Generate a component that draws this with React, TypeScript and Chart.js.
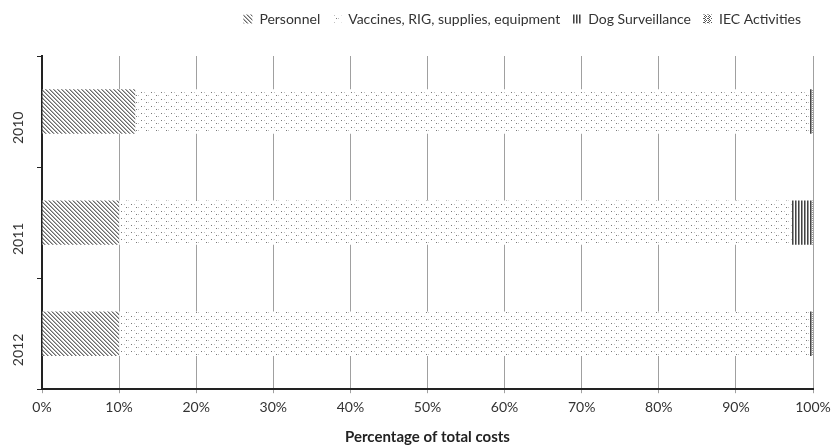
import React, { useEffect, useRef } from "react";
import { Chart, registerables } from "chart.js";

Chart.register(...registerables);

const years = ["2010", "2011", "2012"];
const personnel = [12.1, 10.0, 10.0];
const vaccines = [87.4, 87.2, 89.5];
const dogSurveillance = [0.4, 2.7, 0.4];
const iecActivities = [0.1, 0.1, 0.1];
const xTicks = [0, 10, 20, 30, 40, 50, 60, 70, 80, 90, 100];

function makePattern(kind: string): CanvasPattern | string {
  const c = document.createElement("canvas");
  const ctx = c.getContext("2d");
  if (!ctx) return "#888";
  if (kind === "diag") {
    c.width = 4; c.height = 4;
    ctx.fillStyle = "#ffffff"; ctx.fillRect(0, 0, 4, 4);
    ctx.fillStyle = "#6a6a6a";
    for (let i = 0; i < 4; i++) ctx.fillRect(i, i, 1, 1);
    ctx.fillStyle = "#b0b0b0";
    for (let i = 0; i < 4; i++) ctx.fillRect((i + 1) % 4, i, 1, 1);
  } else if (kind === "dots") {
    c.width = 10; c.height = 7;
    ctx.fillStyle = "#ffffff"; ctx.fillRect(0, 0, 10, 7);
    ctx.fillStyle = "#777777";
    ctx.fillRect(1, 1, 1, 1);
    ctx.fillRect(6, 4, 1, 1);
    ctx.fillStyle = "#c0c0c0";
    ctx.fillRect(4, 1, 1, 1);
    ctx.fillRect(8, 4, 1, 1);
  } else if (kind === "vert") {
    c.width = 3; c.height = 3;
    ctx.fillStyle = "#ffffff"; ctx.fillRect(0, 0, 3, 3);
    ctx.fillStyle = "#444444"; ctx.fillRect(0, 0, 1, 3);
    ctx.fillStyle = "#999999"; ctx.fillRect(1, 0, 1, 3);
  } else {
    c.width = 4; c.height = 4;
    ctx.fillStyle = "#ffffff"; ctx.fillRect(0, 0, 4, 4);
    ctx.fillStyle = "#555555";
    ctx.fillRect(0, 0, 1, 1); ctx.fillRect(2, 0, 1, 1);
    ctx.fillRect(1, 1, 1, 1); ctx.fillRect(3, 2, 1, 1);
    ctx.fillRect(0, 2, 1, 1); ctx.fillRect(1, 3, 1, 1);
  }
  const p = ctx.createPattern(c, "repeat");
  return p || "#888";
}

const legendSpacer = {
  id: "legendSpacer",
  beforeInit(chart: any) {
    const lg = chart.legend;
    if (!lg) return;
    const orig = lg.fit;
    lg.fit = function () {
      orig.call(this);
      this.height += 20;
    };
  },
};

export default function App() {
  const ref = useRef<HTMLCanvasElement | null>(null);
  useEffect(() => {
    document.body.style.margin = "0";
    if (!ref.current) return;
    const font = "Lato, 'Open Sans', sans-serif";
    const chart = new Chart(ref.current, {
      type: "bar",
      data: {
        labels: years,
        datasets: [
          { label: "Personnel", data: personnel, backgroundColor: makePattern("diag") as any, borderWidth: 0 },
          { label: "Vaccines, RIG, supplies, equipment", data: vaccines, backgroundColor: makePattern("dots") as any, borderWidth: 0 },
          { label: "Dog Surveillance", data: dogSurveillance, backgroundColor: makePattern("vert") as any, borderWidth: 0 },
          { label: "IEC Activities", data: iecActivities, backgroundColor: makePattern("iec") as any, borderWidth: 0 },
        ],
      },
      plugins: [legendSpacer],
      options: {
        indexAxis: "y",
        animation: false,
        responsive: false,
        maintainAspectRatio: false,
        layout: { padding: { top: 0, right: 25, left: 0, bottom: 1 } },
        datasets: { bar: { barPercentage: 0.8, categoryPercentage: 0.5 } },
        plugins: {
          legend: {
            position: "top",
            align: "end",
            labels: {
              boxWidth: 9,
              boxHeight: 9,
              padding: 12,
              color: "#333",
              font: { family: font, size: 14 },
            },
          },
          tooltip: { enabled: false },
        },
        scales: {
          x: {
            stacked: true,
            min: 0,
            max: 100,
            afterBuildTicks: (s: any) => {
              s.ticks = xTicks.map((v) => ({ value: v }));
            },
            ticks: {
              callback: (v: any) => v + "%",
              color: "#333",
              font: { family: font, size: 14 },
              padding: 6,
            },
            grid: { color: "#a0a0a0", lineWidth: 1, tickLength: 4, drawTicks: true },
            border: { color: "#222", width: 2 },
            title: {
              display: true,
              text: "Percentage of total costs",
              color: "#222",
              font: { family: font, size: 15, weight: "bold" },
              padding: { top: 6, bottom: 0 },
            },
          },
          y: {
            stacked: true,
            afterFit: (s: any) => {
              s.width = 42;
            },
            ticks: {
              minRotation: 90,
              maxRotation: 90,
              color: "#333",
              font: { family: font, size: 14 },
              padding: 19,
            },
            grid: { drawOnChartArea: false, drawTicks: true, tickLength: 5, color: "#222" },
            border: { color: "#222", width: 2 },
          },
        },
      },
    });
    return () => chart.destroy();
  }, []);
  return (
    <div style={{ width: 838, height: 447 }}>
      <canvas ref={ref} width={838} height={447} style={{ width: 838, height: 447 }} />
    </div>
  );
}
